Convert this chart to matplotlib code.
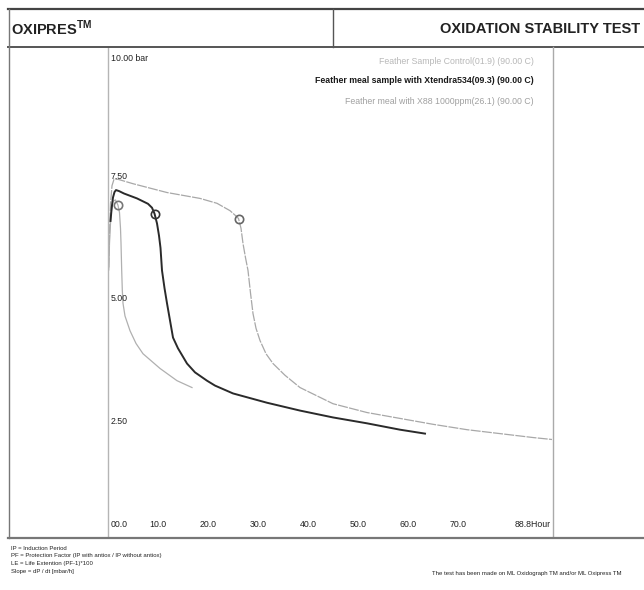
import matplotlib
matplotlib.use("Agg")
import matplotlib.pyplot as plt
from matplotlib.lines import Line2D

W, H = 644, 590
FONT = ["Liberation Sans", "DejaVu Sans"]

# ---------------- data ----------------
series_names = [
    "Feather Sample Control(01.9) (90.00 C)",
    "Feather meal sample with Xtendra534(09.3) (90.00 C)",
    "Feather meal with X88 1000ppm(26.1) (90.00 C)",
]
induction_period = [1.9, 9.3, 26.1]
ip_pressure = [6.77, 6.60, 6.50]

control_hours = [0.15, 0.3, 0.6, 1.0, 1.5, 2.0, 2.3, 2.5, 2.6, 2.74, 2.86, 3.0, 3.4, 4.4, 5.6,
                 7.0, 10.4, 13.8, 16.8]
control_bar = [5.45, 6.0, 6.6, 6.85, 6.88, 6.77, 6.62, 6.3, 6.0, 5.44, 5.04, 4.77, 4.51, 4.21,
               3.95, 3.74, 3.44, 3.19, 3.05]

xtendra_hours = [0.5, 0.74, 1.0, 1.3, 1.6, 2.2, 3.2, 5.8, 8.0, 8.8, 9.3, 9.8, 10.2, 10.5, 10.8,
                 11.3, 11.8, 12.4, 13.0, 14.0, 15.8, 17.4, 19.8, 21.4, 25.0, 31.8, 38.4, 45.0,
                 51.8, 58.4, 63.4]
xtendra_bar = [6.45, 6.72, 6.93, 7.04, 7.08, 7.06, 7.01, 6.91, 6.80, 6.72, 6.60, 6.40, 6.15, 5.90,
               5.44, 5.08, 4.77, 4.42, 4.07, 3.85, 3.54, 3.36, 3.19, 3.09, 2.93, 2.74, 2.58, 2.44,
               2.32, 2.19, 2.11]

x88_hours = [0.15, 0.3, 0.5, 0.8, 1.2, 2.0, 5.0, 11.8, 18.4, 21.8, 24.4, 25.5, 26.1, 26.6, 27.0,
             27.5, 28.0, 28.5, 29.0, 29.6, 30.4, 31.6, 33.0, 35.4, 38.4, 45.0, 51.8, 58.4, 65.0,
             71.8, 78.4, 85.0, 88.8]
x88_bar = [5.5, 6.2, 6.8, 7.17, 7.30, 7.30, 7.21, 7.03, 6.91, 6.81, 6.66, 6.56, 6.50, 6.30, 5.99,
           5.70, 5.44, 4.98, 4.56, 4.26, 4.01, 3.74, 3.54, 3.30, 3.05, 2.72, 2.54, 2.42, 2.30,
           2.19, 2.11, 2.03, 1.99]

x_tick_values = [0, 10, 20, 30, 40, 50, 60, 70, 88.8]
x_tick_labels = ["00.0", "10.0", "20.0", "30.0", "40.0", "50.0", "60.0", "70.0", "88.8Hour"]
y_tick_values = [10.0, 7.5, 5.0, 2.5]
y_tick_labels = ["10.00 bar", "7.50", "5.00", "2.50"]

footer_lines = [
    "IP = Induction Period",
    "PF = Protection Factor (IP with antiox / IP without antiox)",
    "LE = Life Extention (PF-1)*100",
    "Slope = dP / dt [mbar/h]",
]

# ---------------- figure ----------------
fig = plt.figure(figsize=(W / 100, H / 100), dpi=100)
fig.patch.set_facecolor("white")


def fx(x):
    return x / W


def fy(y):
    return 1 - y / H


def fline(x0, y0, x1, y1, color="#555555", lw=1.0):
    fig.add_artist(Line2D([fx(x0), fx(x1)], [fy(y0), fy(y1)], transform=fig.transFigure,
                          color=color, lw=lw))


# frame lines
fline(8, 9, 644, 9, "#444444", 1.6)
fline(8, 47, 644, 47, "#555555", 1.4)
fline(9, 9, 9, 538, "#777777", 1.0)
fline(333, 9, 333, 47, "#555555", 1.0)
fline(553, 47, 553, 537, "#aaaaaa", 1.0)
fline(8, 538, 644, 538, "#777777", 1.6)

# header texts
fig.text(fx(11), fy(28), "OXIPRES$^{\\mathregular{TM}}$", fontsize=10.5, fontweight="bold",
         family=FONT, color="#222222", va="center", ha="left")
fig.text(fx(640), fy(29), "OXIDATION STABILITY TEST", fontsize=10.5, fontweight="bold",
         family=FONT, color="#222222", va="center", ha="right")

# axes
ax = fig.add_axes([fx(108), fy(537), fx(552) - fx(108), (537 - 47) / H])
ax.set_xlim(0, 88.8)
ax.set_ylim(0, 10)
for s in ["top", "right", "bottom"]:
    ax.spines[s].set_visible(False)
ax.spines["left"].set_color("#b5b5b5")
ax.spines["left"].set_linewidth(1.0)
ax.set_xticks([])
ax.set_yticks([])
ax.patch.set_alpha(0)

ax.plot(control_hours, control_bar, color="#b0b0b0", lw=0.9, solid_joinstyle="round")
ax.plot(x88_hours, x88_bar, color="#a8a8a8", lw=0.9, linestyle=(0, (8, 1)),
        solid_joinstyle="round")
ax.plot(xtendra_hours, xtendra_bar, color="#2a2a2a", lw=1.4, solid_joinstyle="round")

circle_colors = ["#777777", "#333333", "#666666"]
for ip, p, c in zip(induction_period, ip_pressure, circle_colors):
    ax.plot([ip], [p], marker="o", ms=6, mfc="none", mec=c, mew=1.2)

# tick labels (inside plot area)
for v, lab in zip(x_tick_values, x_tick_labels):
    ha = "center"
    xv = v
    if v == x_tick_values[0]:
        ha, xv = "left", 0.6
    elif v == x_tick_values[-1]:
        ha, xv = "right", v - 0.3
    ax.text(xv, 0.26, lab, fontsize=6.3, family=FONT, color="#222222", ha=ha, va="center")

for v, lab in zip(y_tick_values, y_tick_labels):
    yv = 9.85 if v == 10.0 else v - 0.05
    ax.text(0.6, yv, lab, fontsize=6.3, family=FONT, color="#222222", ha="left", va="top")

# legend
legend_colors = ["#b8b8b8", "#1a1a1a", "#a0a0a0"]
legend_weights = ["normal", "bold", "normal"]
legend_y = [62, 81, 101]
for name, c, w, y in zip(series_names, legend_colors, legend_weights, legend_y):
    fig.text(fx(534), fy(y), name, fontsize=6.3, family=FONT, color=c, fontweight=w,
             ha="right", va="center")

# footer
for i, line in enumerate(footer_lines):
    fig.text(fx(11), fy(548 + i * 8), line, fontsize=4.3, family=FONT, color="#222222",
             ha="left", va="center")
fig.text(fx(432), fy(573), "The test has been made on ML Oxidograph TM and/or ML Oxipress TM",
         fontsize=4.3, family=FONT, color="#222222", ha="left", va="center")

fig.savefig("out.png", dpi=100)
